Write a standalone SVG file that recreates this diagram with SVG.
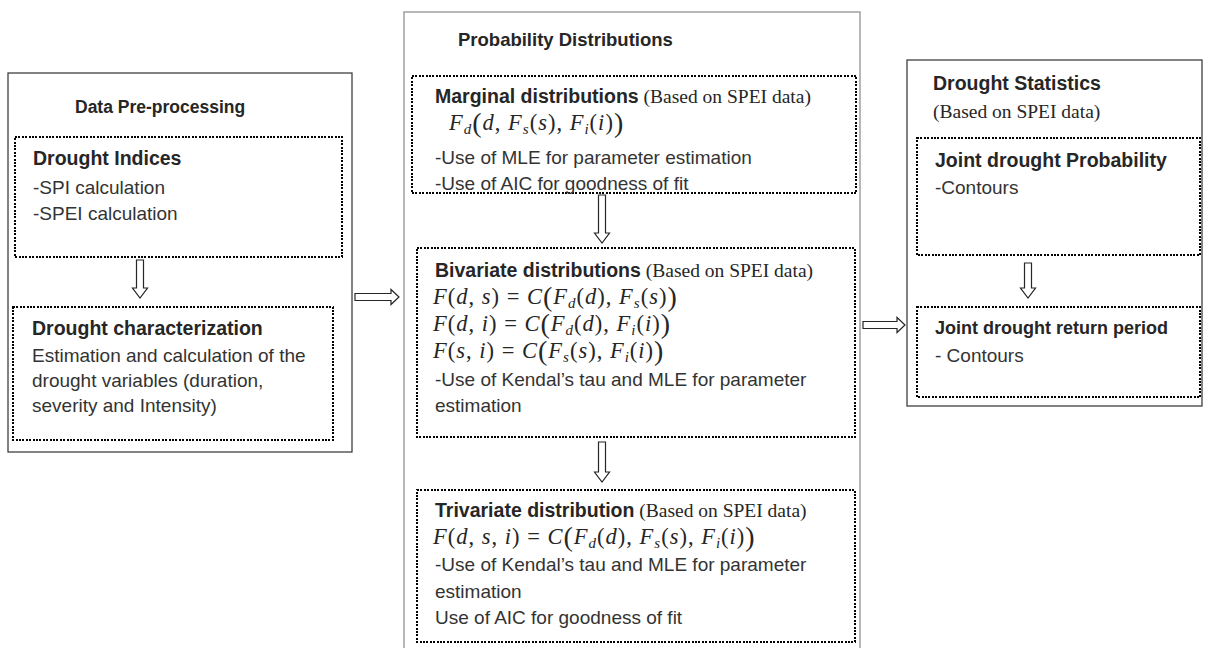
<svg xmlns="http://www.w3.org/2000/svg" width="1208" height="648" viewBox="0 0 1208 648">
<style>
.outer{fill:none;stroke:#404040;stroke-width:1.3}
.outer2{fill:none;stroke:#a0a0a0;stroke-width:1.5}
.dot{fill:none;stroke:#000;stroke-width:2;stroke-dasharray:2 1.4;shape-rendering:crispEdges}
.h{font-family:"Liberation Sans",Arial,sans-serif;font-weight:bold;font-size:17.5px;fill:#262626}
.t{font-family:"Liberation Sans",Arial,sans-serif;font-weight:bold;font-size:19.5px;fill:#262626}
.r{font-family:"Liberation Sans",Arial,sans-serif;font-size:19px;fill:#333}
.s{font-family:"Liberation Serif","Times New Roman",serif;font-weight:normal;font-size:19.5px;fill:#262626}
.m{font-family:"Liberation Serif","Times New Roman",serif;font-size:22.5px;letter-spacing:1px;fill:#262626}
.i{font-style:italic}
.sub{font-style:italic;font-size:15px}
.bp{font-size:28px}
.arr{fill:#fff;stroke:#262626;stroke-width:1.2}
</style>
<rect width="1208" height="648" fill="#fff"/>

<g id="panel-preprocessing">
<rect class="outer" x="8" y="73" width="344" height="379"/>
<text class="h" x="75" y="113">Data Pre-processing</text>
</g>
<g id="node-drought-indices">
<rect class="dot" x="15" y="137" width="327" height="120"/>
<text class="t" x="33" y="165">Drought Indices</text>
<text class="r" x="33" y="194">-SPI calculation</text>
<text class="r" x="33" y="220">-SPEI calculation</text>
</g>
<g id="node-drought-characterization">
<rect class="dot" x="13" y="307" width="320" height="133"/>
<text class="t" x="32" y="335">Drought characterization</text>
<text class="r" x="32" y="362">Estimation and calculation of the</text>
<text class="r" x="32" y="387">drought variables (duration,</text>
<text class="r" x="32" y="412">severity and Intensity)</text>
</g>

<g id="panel-probability">
<rect class="outer2" x="404" y="12" width="456" height="660"/>
<text class="h" x="458" y="46" style="font-size:18.5px">Probability Distributions</text>
</g>
<g id="node-marginal">
<rect class="dot" x="412" y="76" width="444" height="117"/>
<text x="435" y="103"><tspan class="t">Marginal distributions</tspan><tspan class="s"> (Based on SPEI data)</tspan></text>
<text class="m" x="449" y="130"><tspan class="i">F</tspan><tspan class="sub" dy="4">d</tspan><tspan class="bp" dy="-2">(</tspan><tspan class="i" dy="-2">d</tspan>, <tspan class="i">F</tspan><tspan class="sub" dy="4">s</tspan><tspan dy="-4">(</tspan><tspan class="i">s</tspan>), <tspan class="i">F</tspan><tspan class="sub" dy="4">i</tspan><tspan dy="-4">(</tspan><tspan class="i">i</tspan>)<tspan class="bp" dy="2">)</tspan></text>
<text class="r" x="435" y="164">-Use of MLE for parameter estimation</text>
<text class="r" x="435" y="190">-Use of AIC for goodness of fit</text>
</g>
<g id="node-bivariate">
<rect class="dot" x="417" y="248" width="438" height="189"/>
<text x="435" y="277"><tspan class="t">Bivariate distributions</tspan><tspan class="s"> (Based on SPEI data)</tspan></text>
<text class="m" x="433" y="304"><tspan class="i">F</tspan>(<tspan class="i">d</tspan>, <tspan class="i">s</tspan>) = <tspan class="i">C</tspan><tspan class="bp" dy="2">(</tspan><tspan class="i" dy="-2">F</tspan><tspan class="sub" dy="4">d</tspan><tspan dy="-4">(</tspan><tspan class="i">d</tspan>), <tspan class="i">F</tspan><tspan class="sub" dy="4">s</tspan><tspan dy="-4">(</tspan><tspan class="i">s</tspan>)<tspan class="bp" dy="2">)</tspan></text>
<text class="m" x="433" y="331"><tspan class="i">F</tspan>(<tspan class="i">d</tspan>, <tspan class="i">i</tspan>) = <tspan class="i">C</tspan><tspan class="bp" dy="2">(</tspan><tspan class="i" dy="-2">F</tspan><tspan class="sub" dy="4">d</tspan><tspan dy="-4">(</tspan><tspan class="i">d</tspan>), <tspan class="i">F</tspan><tspan class="sub" dy="4">i</tspan><tspan dy="-4">(</tspan><tspan class="i">i</tspan>)<tspan class="bp" dy="2">)</tspan></text>
<text class="m" x="433" y="358"><tspan class="i">F</tspan>(<tspan class="i">s</tspan>, <tspan class="i">i</tspan>) = <tspan class="i">C</tspan><tspan class="bp" dy="2">(</tspan><tspan class="i" dy="-2">F</tspan><tspan class="sub" dy="4">s</tspan><tspan dy="-4">(</tspan><tspan class="i">s</tspan>), <tspan class="i">F</tspan><tspan class="sub" dy="4">i</tspan><tspan dy="-4">(</tspan><tspan class="i">i</tspan>)<tspan class="bp" dy="2">)</tspan></text>
<text class="r" x="435" y="386">-Use of Kendal’s tau and MLE for parameter</text>
<text class="r" x="435" y="412">estimation</text>
</g>
<g id="node-trivariate">
<rect class="dot" x="417" y="490" width="438" height="152"/>
<text x="435" y="517"><tspan class="t">Trivariate distribution</tspan><tspan class="s"> (Based on SPEI data)</tspan></text>
<text class="m" x="433" y="544"><tspan class="i">F</tspan>(<tspan class="i">d</tspan>, <tspan class="i">s</tspan>, <tspan class="i">i</tspan>) = <tspan class="i">C</tspan><tspan class="bp" dy="2">(</tspan><tspan class="i" dy="-2">F</tspan><tspan class="sub" dy="4">d</tspan><tspan dy="-4">(</tspan><tspan class="i">d</tspan>), <tspan class="i">F</tspan><tspan class="sub" dy="4">s</tspan><tspan dy="-4">(</tspan><tspan class="i">s</tspan>), <tspan class="i">F</tspan><tspan class="sub" dy="4">i</tspan><tspan dy="-4">(</tspan><tspan class="i">i</tspan>)<tspan class="bp" dy="2">)</tspan></text>
<text class="r" x="435" y="571">-Use of Kendal’s tau and MLE for parameter</text>
<text class="r" x="435" y="598">estimation</text>
<text class="r" x="435" y="624">Use of AIC for goodness of fit</text>
</g>

<g id="panel-statistics">
<rect class="outer" x="907" y="60" width="295" height="346"/>
<text class="t" x="933" y="90">Drought Statistics</text>
<text class="s" x="933" y="118">(Based on SPEI data)</text>
</g>
<g id="node-joint-probability">
<rect class="dot" x="917" y="138" width="283" height="117"/>
<text class="t" x="935" y="167">Joint drought Probability</text>
<text class="r" x="935" y="194">-Contours</text>
</g>
<g id="node-return-period">
<rect class="dot" x="917" y="307" width="283" height="90"/>
<text class="t" x="935" y="334" style="font-size:18px">Joint drought return period</text>
<text class="r" x="935" y="362">- Contours</text>
</g>

<g id="connectors">
<path class="arr" d="M136.5 260 H143.5 V288 H147.5 L140 298 L132.5 288 H136.5 Z"/>
<path class="arr" d="M598.5 195 H605.5 V233 H609.5 L602 243 L594.5 233 H598.5 Z"/>
<path class="arr" d="M598.5 442 H605.5 V472 H609.5 L602 482 L594.5 472 H598.5 Z"/>
<path class="arr" d="M1024.5 263 H1031.5 V288 H1035.5 L1028 298 L1020.5 288 H1024.5 Z"/>
<path class="arr" d="M355 293.5 H391 V289.5 L399 297 L391 304.5 V300.5 H355 Z"/>
<path class="arr" d="M863 321.5 H897 V317.5 L905 325 L897 332.5 V328.5 H863 Z"/>
</g>
</svg>
